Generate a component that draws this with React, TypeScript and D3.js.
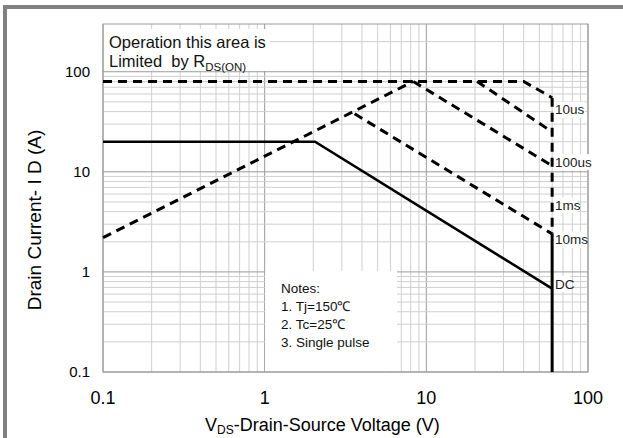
import React from "react";
import * as d3 from "d3";

// safe operating area curves, [V_DS (V), I_D (A)]
const rdsLimit: [number, number][] = [[0.1, 2.2], [8.3, 80]];
const flatTop: [number, number][] = [[0.1, 80], [40, 80], [60, 55]];
const curve10us: [number, number][] = [[20.6, 80], [60, 25]];
const curve100us: [number, number][] = [[8.3, 80], [60, 11.5]];
const curve1ms: [number, number][] = [[3.6, 38], [60, 2.4]];
const dcCurve: [number, number][] = [[0.1, 20], [2.05, 20], [60, 0.68]];
const bvLimitDashed: [number, number][] = [[60, 55], [60, 2.4]];
const bvLimitSolid: [number, number][] = [[60, 2.4], [60, 0.1]];

const curveLabels = ["10us", "100us", "1ms", "10ms", "DC"];
const curveLabelCurrent = [41.7, 12.5, 4.6, 2.1, 0.76];
const curveLabelVoltage = 62.5;

const xTicks = [0.1, 1, 10, 100];
const yTicks = [0.1, 1, 10, 100];
const xTickLabels = ["0.1", "1", "10", "100"];
const yTickLabels = ["0.1", "1", "10", "100"];

const notes = ["Notes:", "1. Tj=150\u2103", "2. Tc=25\u2103", "3. Single pulse"];

const W = 623;
const H = 438;
const FONT = "'Liberation Sans', Arial, sans-serif";

export default function App() {
  const x = d3.scaleLog().domain([0.1, 100]).range([103, 588]);
  const y = d3.scaleLog().domain([0.1, 300]).range([372, 24]);

  // grid values: 1..9 in each decade
  const xGrid: number[] = [];
  [0.1, 1, 10].forEach((dec) => {
    for (let k = 1; k < 10; k++) xGrid.push(+(k * dec).toPrecision(3));
  });
  xGrid.push(100);
  const yGrid: number[] = [];
  [0.1, 1, 10].forEach((dec) => {
    for (let k = 1; k < 10; k++) yGrid.push(+(k * dec).toPrecision(3));
  });
  yGrid.push(100, 200);

  const isMajor = (v: number) => [0.1, 1, 10, 100].includes(v);

  const line = d3
    .line<[number, number]>()
    .x((d) => x(d[0]))
    .y((d) => y(d[1]));

  const dashed = [rdsLimit, flatTop, curve10us, curve100us, curve1ms, bvLimitDashed];

  const [x0, x1] = x.range();
  const [y0, y1] = y.range();

  return (
    <svg
      width={W}
      height={H}
      style={{ position: "absolute", left: 0, top: 0, background: "#fff" }}
      fontFamily={FONT}
    >
      <rect x={0} y={0} width={W} height={H} fill="#fff" />
      {/* frame of the original figure */}
      <path d={`M5,${H} V7 H${W}`} fill="none" stroke="#808080" strokeWidth={4} />

      {/* grid */}
      {xGrid.map((v) => (
        <line
          key={"gx" + v}
          x1={x(v)}
          x2={x(v)}
          y1={y1}
          y2={y0}
          stroke={isMajor(v) ? "#9a9a9a" : "#cfcfcf"}
          strokeWidth={1}
        />
      ))}
      {yGrid.map((v) => (
        <line
          key={"gy" + v}
          x1={x0}
          x2={x1}
          y1={y(v)}
          y2={y(v)}
          stroke={isMajor(v) ? "#9a9a9a" : "#cfcfcf"}
          strokeWidth={1}
        />
      ))}
      <rect x={x0} y={y1} width={x1 - x0} height={y0 - y1} fill="none" stroke="#9a9a9a" />

      {/* R_DS(on) annotation box */}
      <rect x={x0 + 1} y={29} width={166} height={42} fill="#fff" />
      <text x={109} y={48} fontSize={16.5} fill="#111">
        Operation this area is
      </text>
      <text x={109} y={66.5} fontSize={16.5} fill="#111" style={{ whiteSpace: "pre" }}>
        {"Limited  by R"}
        <tspan fontSize={11.5} dy={4}>
          DS(ON)
        </tspan>
      </text>

      {/* notes box */}
      <rect x={265} y={271} width={132} height={100} fill="#fff" />
      {notes.map((t, i) => (
        <text key={t} x={281} y={293 + i * 18} fontSize={13.5} fill="#111">
          {t}
        </text>
      ))}

      {/* white backgrounds of the curve labels */}
      {curveLabels.map((t, i) => (
        <rect
          key={"bg" + t}
          x={x(curveLabelVoltage) - 2}
          y={y(curveLabelCurrent[i]) - 8}
          width={t.length * 7.5 + 2}
          height={16}
          fill="#fff"
        />
      ))}

      {/* curves */}
      {dashed.map((d, i) => (
        <path
          key={"d" + i}
          d={line(d) || ""}
          fill="none"
          stroke="#000"
          strokeWidth={3}
          strokeDasharray="9,6"
        />
      ))}
      <path d={line(dcCurve) || ""} fill="none" stroke="#000" strokeWidth={2.6} />
      <path d={line(bvLimitSolid) || ""} fill="none" stroke="#000" strokeWidth={3} />

      {/* curve labels */}
      {curveLabels.map((t, i) => (
        <text
          key={t}
          x={x(curveLabelVoltage)}
          y={y(curveLabelCurrent[i])}
          dy="0.35em"
          fontSize={13.5}
          fill="#222"
        >
          {t}
        </text>
      ))}

      {/* tick labels */}
      {xTicks.map((v, i) => (
        <text key={"xt" + v} x={x(v)} y={404} fontSize={18} textAnchor="middle" fill="#000">
          {xTickLabels[i]}
        </text>
      ))}
      {yTicks.map((v, i) => (
        <text
          key={"yt" + v}
          x={90}
          y={y(v)}
          dy="0.35em"
          fontSize={15}
          textAnchor="end"
          fill="#000"
        >
          {yTickLabels[i]}
        </text>
      ))}

      {/* axis titles */}
      <text x={205} y={431} fontSize={18} fill="#000">
        V
        <tspan fontSize={12} dy={3}>
          DS
        </tspan>
        <tspan dy={-3}>-Drain-Source Voltage (V)</tspan>
      </text>
      <text
        transform="translate(41,220) rotate(-90)"
        textAnchor="middle"
        fontSize={19}
        fill="#000"
      >
        Drain Current- I D (A)
      </text>
    </svg>
  );
}
